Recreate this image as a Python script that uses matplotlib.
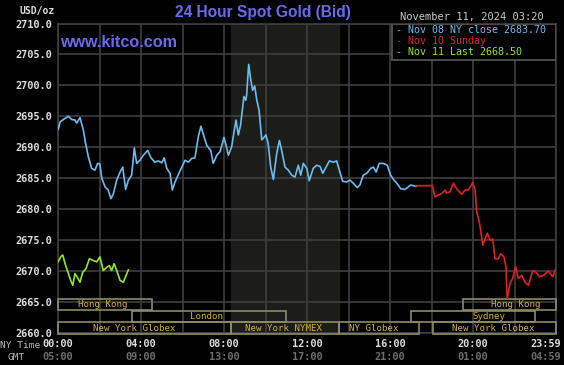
import matplotlib
matplotlib.use("Agg")
import matplotlib.pyplot as plt
from matplotlib.patches import Rectangle
import matplotlib.transforms as mtransforms

# ---- data (hours since 00:00 NY time, price in USD/oz) ----
nov08_t = [0.01, 0.10, 0.26, 0.50, 0.66, 0.82, 0.90, 1.06, 1.22, 1.33, 1.46, 1.62, 1.78, 1.91,
           2.02, 2.11, 2.27, 2.42, 2.55, 2.67, 2.83, 2.99, 3.12, 3.26, 3.39, 3.55, 3.68, 3.79,
           3.95, 4.11, 4.32, 4.48, 4.67, 4.83, 5.00, 5.12, 5.24, 5.40, 5.51, 5.64, 5.88, 6.12,
           6.28, 6.44, 6.60, 6.76, 6.89, 7.04, 7.17, 7.36, 7.48, 7.65, 7.81, 8.00, 8.10, 8.21,
           8.37, 8.45, 8.58, 8.69, 8.80, 8.96, 9.05, 9.09, 9.19, 9.29, 9.38, 9.48, 9.58, 9.69,
           9.82, 9.93, 10.02, 10.13, 10.25, 10.38, 10.54, 10.67, 10.78, 10.94, 11.10, 11.26,
           11.42, 11.58, 11.70, 11.82, 11.99, 12.11, 12.30, 12.47, 12.63, 12.76, 12.92, 13.08,
           13.27, 13.43, 13.56, 13.72, 13.91, 14.07, 14.23, 14.42, 14.55, 14.71, 14.88, 15.07,
           15.20, 15.33, 15.48, 15.68, 15.87, 16.03, 16.19, 16.35, 16.52, 16.72, 16.88, 17.00,
           17.12, 17.25]
nov08_p = [2692.9, 2694.1, 2694.5, 2695.0, 2694.5, 2694.4, 2693.9, 2694.8, 2692.8, 2690.6,
           2688.5, 2686.6, 2686.3, 2687.4, 2687.3, 2685.0, 2683.6, 2683.1, 2681.7, 2682.5,
           2684.7, 2686.0, 2686.8, 2683.2, 2684.7, 2685.5, 2689.9, 2687.4, 2687.9, 2688.7,
           2689.5, 2688.3, 2687.6, 2687.8, 2687.5, 2688.3, 2686.6, 2685.8, 2683.1, 2684.4,
           2686.2, 2687.9, 2687.6, 2688.2, 2688.3, 2691.7, 2693.4, 2691.7, 2690.3, 2689.5,
           2687.4, 2688.7, 2689.3, 2691.6, 2690.3, 2688.7, 2690.1, 2691.8, 2694.4, 2692.0,
           2693.6, 2698.2, 2697.6, 2698.4, 2703.4, 2700.9, 2699.2, 2699.9, 2697.6, 2696.0,
           2691.2, 2691.6, 2692.0, 2690.6, 2686.8, 2684.8, 2689.0, 2691.1, 2689.5, 2686.8,
           2686.3, 2685.5, 2685.2, 2687.1, 2685.5, 2687.4, 2686.6, 2684.6, 2686.6, 2687.1,
           2686.9, 2685.8, 2686.8, 2687.8, 2687.6, 2687.8, 2686.3, 2684.5, 2684.4, 2684.7,
           2684.2, 2683.5, 2683.9, 2685.5, 2685.8, 2686.6, 2686.8, 2686.0, 2687.4, 2687.4,
           2687.1, 2685.5, 2684.7, 2684.1, 2683.3, 2683.2, 2683.6, 2683.9, 2683.8, 2683.7]

nov10_t = [17.25, 18.04, 18.17, 18.33, 18.49, 18.65, 18.73, 18.89, 19.05, 19.21, 19.46, 19.61,
           19.77, 19.99, 20.10, 20.18, 20.29, 20.37, 20.47, 20.58, 20.69, 20.82, 20.95, 21.06,
           21.22, 21.34, 21.49, 21.59, 21.65, 21.78, 21.91, 22.06, 22.18, 22.35, 22.51, 22.67,
           22.88, 23.04, 23.20, 23.39, 23.63, 23.84, 23.97]
nov10_p = [2683.8, 2683.8, 2682.0, 2682.3, 2682.5, 2683.1, 2682.6, 2682.8, 2684.2, 2683.3,
           2682.4, 2683.1, 2683.1, 2684.3, 2683.1, 2679.5, 2678.2, 2676.6, 2674.2, 2675.2,
           2676.1, 2675.0, 2675.2, 2672.0, 2672.0, 2672.8, 2672.3, 2670.7, 2665.5, 2668.0,
           2668.8, 2670.7, 2668.8, 2669.3, 2668.2, 2667.7, 2670.1, 2669.8, 2669.1, 2669.3,
           2670.0, 2669.1, 2670.2]

nov11_t = [0.01, 0.13, 0.23, 0.34, 0.50, 0.61, 0.71, 0.82, 0.93, 1.06, 1.19, 1.35, 1.51,
           1.70, 1.87, 2.02, 2.18, 2.35, 2.47, 2.59, 2.70, 2.83, 2.99, 3.15, 3.28, 3.39]
nov11_p = [2671.5, 2672.3, 2672.6, 2671.2, 2669.6, 2668.5, 2667.7, 2669.6, 2669.0, 2668.2,
           2669.8, 2670.4, 2672.0, 2671.7, 2671.5, 2672.3, 2670.1, 2670.6, 2670.9, 2670.1,
           2671.2, 2670.1, 2668.5, 2668.2, 2669.3, 2670.2]

legend_labels = ["Nov 08 NY close 2683.70", "Nov 10 Sunday", "Nov 11 Last 2668.50"]

ny_ticks = [0, 4, 8, 12, 16, 20, 24]
ny_labels = ["00:00", "04:00", "08:00", "12:00", "16:00", "20:00", "23:59"]
gmt_labels = ["05:00", "09:00", "13:00", "17:00", "21:00", "01:00", "04:59"]

nymex_open, nymex_close = 8.33, 13.55

session_names = ["Hong Kong", "Hong Kong", "London", "Sydney",
                 "New York Globex", "New York NYMEX", "NY Globex", "New York Globex"]
session_start = [0, 19.5, 3.55, 17.0, 0, 8.33, 13.55, 18.05]
session_end = [4.53, 24, 11.0, 23.0, 8.33, 13.55, 17.4, 24]
session_row = [0, 0, 1, 1, 2, 2, 2, 2]
session_text_x = [2.15, 22.05, 7.18, 20.77, 3.69, 10.89, 15.23, 21.0]

# ---- style ----
BLUE = '#6cbcf0'
RED = '#dd2020'
GREEN = '#8ee82a'
TITLE = '#6a6af0'
GRID = '#3e3e3e'
GOLD = '#d4b038'
BOXEDGE = '#8c8c64'
MONO = 'DejaVu Sans Mono'

fig = plt.figure(figsize=(5.64, 3.65), dpi=100, facecolor='black')
ax = fig.add_axes([58 / 564, 1 - 333 / 365, 498 / 564, 309.5 / 365])
ax.set_facecolor('black')

ax.set_xlim(0, 24)
ax.set_ylim(2660, 2710)

# NYMEX shaded hours
ax.axvspan(nymex_open, nymex_close, color='#1c1c19', zorder=0)

ax.set_xticks(range(0, 25, 2))
ax.set_yticks(range(2660, 2711, 5))
ax.grid(True, color=GRID, linewidth=1.2, zorder=1)
ax.set_axisbelow(True)
for s in ax.spines.values():
    s.set_color(GRID)
    s.set_linewidth(1.2)

ax.set_xticklabels([])
ax.set_yticklabels([f'{v:.1f}' for v in range(2660, 2711, 5)])
ax.tick_params(length=0, pad=4)
for lab in ax.get_yticklabels():
    lab.set_fontfamily(MONO)
    lab.set_fontweight('bold')
    lab.set_fontsize(7.4)
    lab.set_color('#dddddd')

# price lines
ax.plot(nov08_t, nov08_p, color=BLUE, lw=1.2, zorder=4)
ax.plot(nov10_t, nov10_p, color=RED, lw=1.2, zorder=4)
ax.plot(nov11_t, nov11_p, color=GREEN, lw=1.2, zorder=4)

# trading session boxes
row_bottom = [2663.65, 2661.7, 2659.85]
row_h = 1.9
for name, x0, x1, r, tx in zip(session_names, session_start, session_end, session_row, session_text_x):
    ax.add_patch(Rectangle((x0, row_bottom[r]), x1 - x0, row_h, fill=False,
                           edgecolor=BOXEDGE, lw=1.2, zorder=3, clip_on=False))
    ax.text(tx, row_bottom[r] + row_h / 2, name, ha='center', va='center',
            family=MONO, fontsize=6.6, color=GOLD, zorder=5)

# x labels: NY time and GMT rows
trans = mtransforms.blended_transform_factory(ax.transData, fig.transFigure)
for i, (t, ny, gmt) in enumerate(zip(ny_ticks, ny_labels, gmt_labels)):
    ha = 'right' if i == len(ny_ticks) - 1 else 'center'
    off = mtransforms.ScaledTranslation(5 / 100 if ha == 'right' else 0, 0, fig.dpi_scale_trans)
    ax.text(t, 1 - 344 / 365, ny, transform=trans + off, ha=ha, va='center',
            family=MONO, fontweight='bold', fontsize=7.4, color='#dddddd')
    ax.text(t, 1 - 357 / 365, gmt, transform=trans + off, ha=ha, va='center',
            family=MONO, fontweight='bold', fontsize=7.4, color='#6e6e6e')
fig.text(40 / 564, 1 - 345 / 365, 'NY Time', ha='right', va='center',
         family=MONO, fontsize=6.8, color='#bbbbbb')
fig.text(25 / 564, 1 - 357 / 365, 'GMT', ha='right', va='center',
         family=MONO, fontsize=6.8, color='#bbbbbb')

# header texts
fig.text(55 / 564, 1 - 11 / 365, 'USD/oz', ha='right', va='center',
         family=MONO, fontweight='bold', fontsize=7.0, color='#dddddd')
fig.text(263 / 564, 1 - 13 / 365, '24 Hour Spot Gold (Bid)', ha='center', va='center',
         family='Liberation Sans', fontweight='bold', fontsize=11.2, color=TITLE)
fig.text(400 / 564, 1 - 17 / 365, 'November 11, 2024 03:20', ha='left', va='center',
         family=MONO, fontsize=7.5, color='#cccccc')
ax.text(0.005, 0.937, 'www.kitco.com', transform=ax.transAxes, ha='left', va='center',
        family='Liberation Sans', fontweight='bold', fontsize=11.6, color=TITLE, zorder=6)

# legend box
ax.add_patch(Rectangle((0.671, 0.882), 0.329, 0.118, transform=ax.transAxes,
                       facecolor='black', edgecolor='#5a5a5a', lw=1.2, zorder=7))
for i, (lab, col) in enumerate(zip(legend_labels, [BLUE, RED, GREEN])):
    ax.text(0.679, 0.979 - i * 0.0355, '- ' + lab, transform=ax.transAxes,
            ha='left', va='center', family=MONO, fontsize=7.2, color=col, zorder=8)

fig.savefig('out.png', dpi=100, facecolor='black')
